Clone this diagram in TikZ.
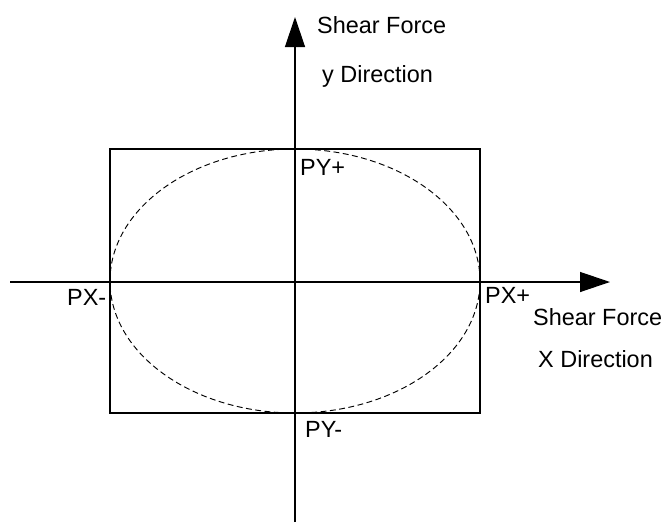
\documentclass[tikz,border=0pt]{standalone}
\usepackage{fontspec}
\setmainfont{Liberation Sans}
\usetikzlibrary{arrows.meta}
\begin{document}
\begin{tikzpicture}[x=0.03cm,y=-0.03cm,
  axis/.style={line width=1.1pt,-{Triangle[length=0.9cm,width=0.6cm]}},
  lbl/.style={anchor=base west,inner sep=0pt,font=\fontsize{20}{24}\selectfont}]
\useasboundingbox (0,0) rectangle (666,527);
% axes
\coordinate (ctr) at (295,281);
\coordinate (xleft) at (10,282);
\coordinate (xright) at (610,282);
\coordinate (ybot) at (295,522);
\coordinate (ytop) at (295,17);
\draw[line width=1pt] (110,149) rectangle (480,413);
\draw[line width=0.8pt,dash pattern=on 5pt off 3pt] (ctr) ellipse [x radius=5.55cm,y radius=3.96cm];
\draw[axis] (xleft) -- (xright);
\draw[axis] (ybot) -- (ytop);
% labels
\node[lbl] (yshear) at (317,33) {Shear Force};
\node[lbl] (ydir) at (322,82) {y Direction};
\node[lbl] (xshear) at (533,325) {Shear Force};
\node[lbl] (xdir) at (538,367) {X Direction};
\node[lbl] (pyp) at (300,175) {PY+};
\node[lbl] (pym) at (305,437) {PY-};
\node[lbl] (pxm) at (67,305) {PX-};
\node[lbl] (pxp) at (485,303) {PX+};
\end{tikzpicture}
\end{document}
